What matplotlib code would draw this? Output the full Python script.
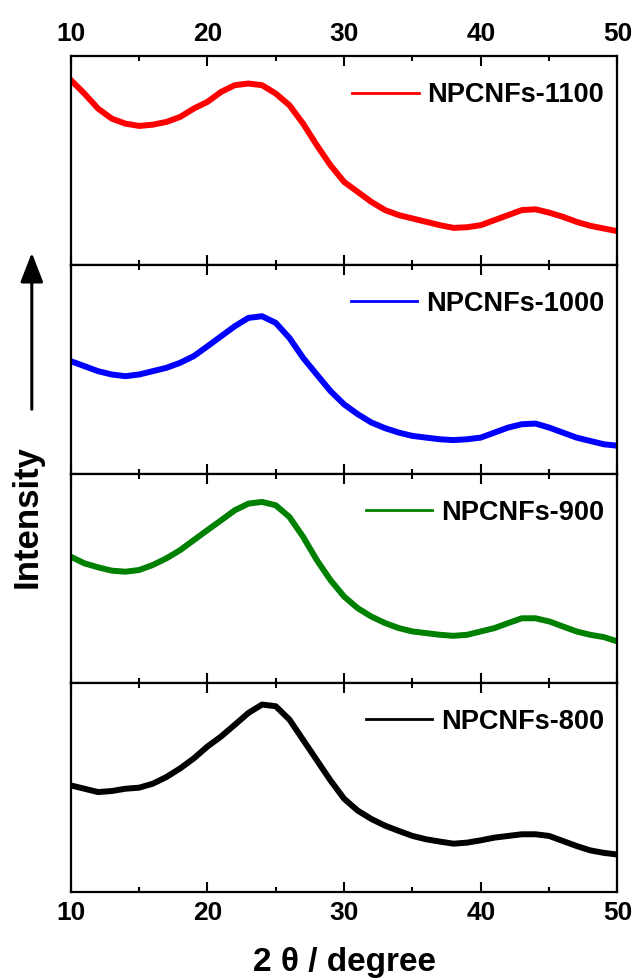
import numpy as np
import matplotlib
matplotlib.use('Agg')
import matplotlib.pyplot as plt
from matplotlib.ticker import MultipleLocator

plt.rcParams['font.family'] = ['Liberation Sans', 'DejaVu Sans']
plt.rcParams['font.weight'] = 'bold'

# 2theta 取整数度
two_theta = np.arange(10, 51)

# 各样品强度 (相对面板高度, 0-100)
i_1100 = [88.5, 82.0, 74.8, 70.0, 67.6, 66.5, 67.1, 68.4, 70.8, 74.8,
          78.0, 82.8, 86.0, 86.8, 86.0, 82.0, 76.4, 67.6, 57.3, 47.7,
          39.7, 34.9, 30.1, 26.2, 23.8, 22.2, 20.6, 19.0, 17.7, 18.0,
          19.0, 21.4, 23.8, 26.2, 26.6, 25.0, 23.0, 20.6, 18.7, 17.4, 16.1]
i_1000 = [53.9, 51.5, 49.1, 47.5, 46.7, 47.5, 49.1, 50.7, 53.1, 56.3,
          61.0, 65.8, 70.6, 74.6, 75.4, 72.2, 65.0, 55.5, 47.5, 39.6,
          33.2, 28.5, 24.5, 21.8, 19.7, 18.1, 17.3, 16.5, 16.1, 16.5,
          17.3, 19.7, 22.1, 23.7, 24.0, 22.1, 19.7, 17.3, 15.7, 14.1, 13.4]
i_900 = [60.3, 57.1, 55.2, 53.6, 53.1, 53.9, 56.3, 59.5, 63.4, 68.2,
         73.0, 77.7, 82.5, 85.7, 86.5, 84.9, 79.3, 69.8, 58.7, 49.1,
         41.2, 35.6, 31.6, 28.5, 26.1, 24.5, 23.7, 22.9, 22.4, 22.9,
         24.5, 26.1, 28.5, 30.8, 30.8, 29.3, 26.9, 24.5, 22.9, 21.8, 19.7]
i_800 = [50.8, 49.2, 47.6, 48.1, 49.2, 49.7, 51.6, 54.8, 58.9, 63.7,
         69.4, 74.2, 79.8, 85.5, 89.5, 88.7, 82.3, 72.6, 62.9, 53.2,
         44.4, 38.7, 34.7, 31.5, 29.0, 26.6, 25.0, 23.9, 22.9, 23.4,
         24.5, 25.8, 26.6, 27.4, 27.4, 26.6, 24.2, 21.8, 19.7, 18.5, 17.7]

samples = ['NPCNFs-1100', 'NPCNFs-1000', 'NPCNFs-900', 'NPCNFs-800']
colors = ['#ff0000', '#0000ff', '#008000', '#000000']
data = [i_1100, i_1000, i_900, i_800]

fig, axes = plt.subplots(4, 1, figsize=(6.36, 9.8), dpi=100, sharex=True)
fig.subplots_adjust(left=0.1112, right=0.9709, bottom=0.0903, top=0.9429, hspace=0)

for ax, name, c, y in zip(axes, samples, colors, data):
    ax.plot(two_theta, y, color=c, lw=4.3, label=name)
    ax.set_xlim(10, 50)
    ax.set_ylim(0, 100)
    ax.set_yticks([])
    ax.xaxis.set_major_locator(MultipleLocator(10))
    ax.xaxis.set_minor_locator(MultipleLocator(5))
    ax.tick_params(axis='x', which='major', direction='in', top=True, bottom=True,
                   length=7, width=1.5, labelbottom=False, labelsize=19, pad=7)
    ax.tick_params(axis='x', which='minor', direction='in', top=True, bottom=True,
                   length=3.5, width=1.5)
    for s in ax.spines.values():
        s.set_linewidth(1.6)
    leg = ax.legend(loc='upper right', bbox_to_anchor=(1.0, 0.94), frameon=False,
                    fontsize=19.5, handlelength=2.45, handletextpad=0.32,
                    borderaxespad=0.1)
    for t in leg.get_texts():
        t.set_fontweight('bold')
    for h in leg.get_lines():
        h.set_linewidth(2.0)

axes[0].tick_params(axis='x', which='major', labeltop=True)
axes[-1].tick_params(axis='x', which='major', labelbottom=True)
for ax in (axes[0], axes[-1]):
    for lab in ax.get_xticklabels():
        lab.set_fontweight('bold')

axes[-1].set_xlabel('2 θ / degree', fontsize=24, fontweight='bold', labelpad=16)

# 纵轴标签和箭头
fig.text(0.042, 1 - 516 / 980, 'Intensity', rotation=90, fontsize=25,
         fontweight='bold', ha='center', va='center')
fig.add_artist(matplotlib.patches.FancyArrowPatch(
    (0.050, 1 - 412 / 980), (0.050, 1 - 250 / 980), transform=fig.transFigure,
    arrowstyle='-|>,head_length=0.9,head_width=0.35', mutation_scale=20,
    lw=2.2, color='black'))

plt.savefig('out.png', dpi=100)
